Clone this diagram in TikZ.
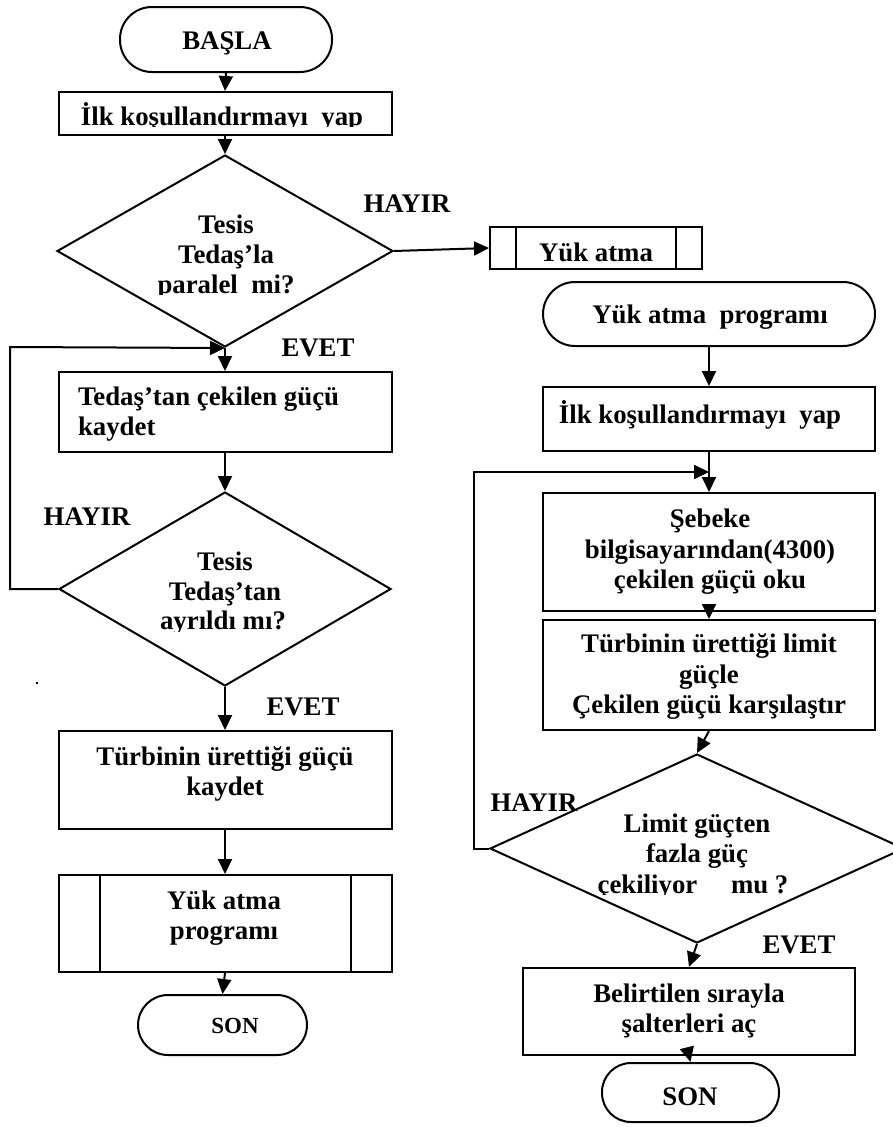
\documentclass[tikz,border=0pt]{standalone}
\usepackage{fontspec}
\setmainfont{Liberation Serif}
\usetikzlibrary{shapes.geometric,arrows.meta,calc}
\begin{document}
\begin{tikzpicture}[x=1pt,y=-1pt,
  line width=2pt,
  every node/.style={inner sep=0pt},
  txt/.style={font=\bfseries\fontsize{26.8}{30.5}\selectfont, align=center},
  lbl/.style={font=\bfseries\fontsize{26.8}{30.5}\selectfont, anchor=base},
  arr/.style={-{Triangle[length=15pt,width=14pt]}},
  boxshape/.style={draw, rectangle},
  termshape/.style={draw, rectangle, rounded corners=#1},
  decshape/.style={draw, diamond},
  subproc/.style={draw, rectangle, path picture={
      \draw[line width=2pt] ([xshift=#1]path picture bounding box.north west) -- ([xshift=#1]path picture bounding box.south west);
      \draw[line width=2pt] ([xshift=-#1]path picture bounding box.north east) -- ([xshift=-#1]path picture bounding box.south east);}}
]
\fill[white] (0,0) rectangle (893,1127);
\useasboundingbox (0,0) rectangle (893,1127);

% ---------- left column ----------
\node[termshape=32pt, minimum width=212pt, minimum height=65pt] (start) at (226,39.5) {};
\node[boxshape, minimum width=333pt, minimum height=43pt] (b1) at (225,113.5) {};
\node[decshape, minimum width=336pt, minimum height=192pt] (d1) at (225,251) {};
\node[subproc=26pt, minimum width=212pt, minimum height=42pt] (sub1) at (596,248) {};
\node[boxshape, minimum width=333pt, minimum height=80pt] (b2) at (225,412) {};
\node[decshape, minimum width=332pt, minimum height=194pt] (d2) at (225,589) {};
\node[boxshape, minimum width=333pt, minimum height=98pt] (b3) at (225,780) {};
\node[subproc=41pt, minimum width=333pt, minimum height=97pt] (sub2) at (225,923.5) {};
\node[termshape=30pt, minimum width=169pt, minimum height=60pt] (end1) at (222.5,1025) {};

% ---------- right column ----------
\node[termshape=32pt, minimum width=332pt, minimum height=64pt] (start2) at (709,314) {};
\node[boxshape, minimum width=332pt, minimum height=64pt] (b4) at (709,419) {};
\node[boxshape, minimum width=332pt, minimum height=118pt] (b5) at (709,552) {};
\node[boxshape, minimum width=332pt, minimum height=110pt] (b6) at (709,675) {};
\node[decshape, minimum width=414pt, minimum height=189pt] (d3) at (697,848.5) {};
\node[boxshape, minimum width=332pt, minimum height=87pt] (b7) at (689,1011.5) {};
\node[termshape=29pt, minimum width=177pt, minimum height=59pt] (end2) at (690.5,1092.5) {};

% ---------- texts ----------
\node[lbl] (tstart) at (227,49) {BAŞLA};
\begin{scope}
  \clip (58,92) rectangle (391,126.5);
  \node[lbl] (tb1) at (222,125) {İlk koşullandırmayı~ yap};
\end{scope}
\node[txt] (td1) at (226,242) {Tesis\\Tedaş’la};
\begin{scope}
  \clip (60,270) rectangle (390,294);
  \node[lbl] (td1b) at (226,293) {paralel~ mi?};
\end{scope}
\node[lbl] (tsub1) at (596,261) {Yük atma};
\node[txt, anchor=west, align=left] (tb2) at (77,414) {Tedaş’tan çekilen güçü\\kaydet};
\node[txt] (td2) at (225,579) {Tesis\\Tedaş’tan};
\begin{scope}
  \clip (60,605) rectangle (390,631.5);
  \node[lbl] (td2b) at (223,629) {ayrıldı mı?};
\end{scope}
\node[txt] (tb3) at (225,774) {Türbinin ürettiği güçü\\kaydet};
\node[txt] (tsub2) at (224,918) {Yük atma\\programı};
\node[lbl, font=\bfseries\fontsize{23}{27}\selectfont] (tend1) at (235,1033) {SON};

\node[lbl] (tstart2) at (710,323) {Yük atma~ programı};
\node[lbl] (tb4) at (700,423) {İlk koşullandırmayı~ yap};
\node[txt] (tb5) at (710,552) {Şebeke\\bilgisayarından(4300)\\çekilen güçü oku};
\node[txt] (tb6) at (709,677) {Türbinin ürettiği limit\\güçle\\Çekilen güçü karşılaştır};
\node[txt] (td3) at (697,841) {Limit güçten\\fazla güç};
\begin{scope}
  \clip (500,868) rectangle (890,894);
  \node[lbl] (td3b) at (693,893) {çekiliyor\hspace{27pt} mu ?};
\end{scope}
\node[txt] (tb7) at (689,1011) {Belirtilen sırayla\\şalterleri aç};
\node[lbl] (tend2) at (690,1105) {SON};

% ---------- labels ----------
\node[lbl] (h1) at (407,212) {HAYIR};
\node[lbl] (e1) at (318,356) {EVET};
\node[lbl] (h2) at (87,525) {HAYIR};
\node[lbl] (e2) at (303,715) {EVET};
\node[lbl] (h3) at (534,811) {HAYIR};
\node[lbl] (e3) at (799,953) {EVET};

% ---------- connectors ----------
\coordinate (l1) at (10,347);
\coordinate (j2) at (709,472);
\coordinate (l2) at (474,472);

\draw[arr] (start.south) -- (b1.north);
\draw[arr] (b1.south) -- (d1.north);
\draw[arr] (d1.east) -- (sub1.west);
\draw[arr] (d1.south) -- (b2.north);
\draw[arr] (b2.south) -- (d2.north);
\draw[arr] (d2.west) -| (l1) -- (d1.south);
\draw[arr] (d2.south) -- (b3.north);
\draw[arr] (b3.south) -- (sub2.north);
\draw[arr] (sub2.south) -- (end1.north);

\draw[arr] (start2.south) -- (b4.north);
\draw[arr] (b4.south) -- (b5.north);
\draw[arr] (d3.west) -| (l2) -- (j2);
\draw[arr] (b5.south) -- (b6.north);
\draw[arr] (b6.south) -- (d3.north);
\draw[arr] (d3.south) -- (b7.north);
\draw[arr] (b7.south) -- (end2.north);

% stray mark
\fill (36,682) rectangle (38,684);
\end{tikzpicture}
\end{document}
